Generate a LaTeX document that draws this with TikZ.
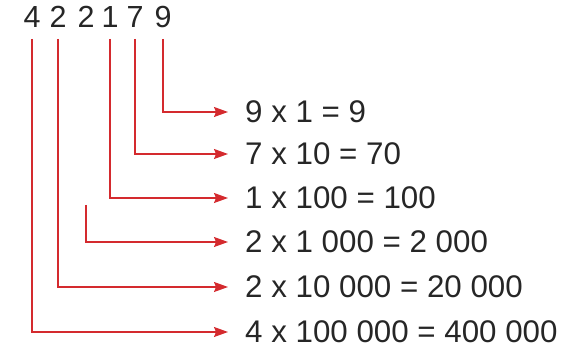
\documentclass[tikz,border=0pt]{standalone}
\usepackage{fontspec}
\setmainfont{Liberation Sans}
\usetikzlibrary{arrows.meta}
\definecolor{arrred}{RGB}{212,42,46}

\begin{document}
\begin{tikzpicture}[x=1pt, y=-1pt,
    digit/.style={inner sep=0pt, anchor=base, font=\fontsize{30.5}{36}\selectfont, text=black!85},
    term/.style={inner sep=0pt, anchor=west, font=\fontsize{31.3}{36}\selectfont, text=black!85},
    arr/.style={-{Stealth[length=14pt, width=10pt, inset=2pt]}, line width=1.2pt, arrred, shorten >=17pt},
]
\useasboundingbox (0,0) rectangle (575,352);

% the number, one node per digit
\node[digit] (dA) at (32,28) {4};
\node[digit] (dB) at (58,28) {2};
\node[digit] (dC) at (86,28) {2};
\node[digit] (dD) at (110,28) {1};
\node[digit] (dE) at (135,28) {7};
\node[digit] (dF) at (163,28) {9};

% place values
\node[term] (r1) at (245,112) {9 x 1 = 9};
\node[term] (r2) at (245,154) {7 x 10 = 70};
\node[term] (r3) at (245,198) {1 x 100 = 100};
\node[term] (r4) at (245,242) {2 x 1 000 = 2 000};
\node[term] (r5) at (245,287) {2 x 10 000 = 20 000};
\node[term] (r6) at (245,332) {4 x 100 000 = 400 000};

\coordinate (cC) at (86,205);

\draw[arr] ([yshift=-11pt]dF.base) |- (r1.west);
\draw[arr] ([yshift=-11pt]dE.base) |- (r2.west);
\draw[arr] ([yshift=-11pt]dD.base) |- (r3.west);
\draw[arr] (cC) |- (r4.west);
\draw[arr] ([yshift=-11pt]dB.base) |- (r5.west);
\draw[arr] ([yshift=-11pt]dA.base) |- (r6.west);
\end{tikzpicture}
\end{document}
